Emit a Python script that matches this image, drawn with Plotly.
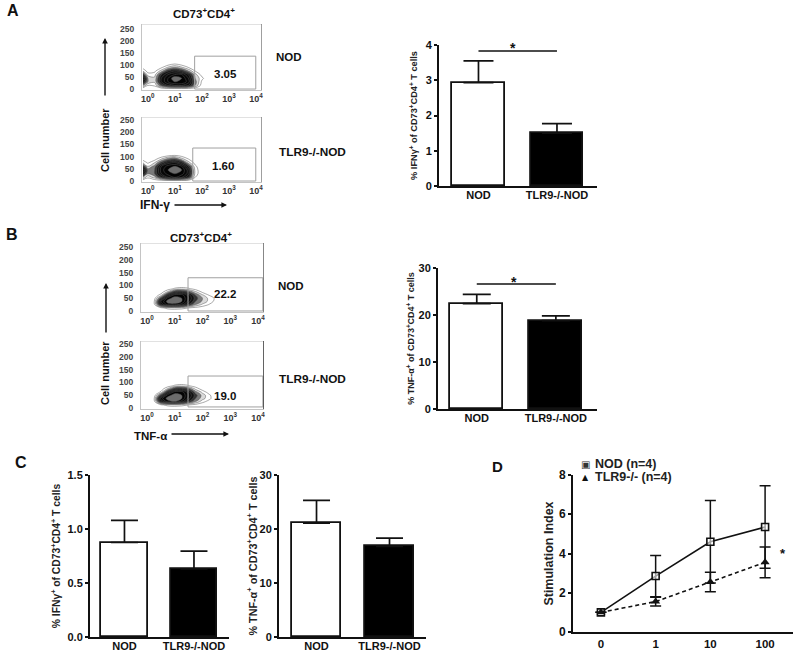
import plotly.graph_objects as go

W, H = 800, 656
FONT = "Liberation Sans"
INK = "#111111"

# ---------- bar data ----------
bar_categories = ["NOD", "TLR9-/-NOD"]
a_values = [2.93, 1.5]
a_errors = [0.62, 0.27]
b_values = [22.4, 18.8]
b_errors = [2.0, 1.0]
c1_values = [0.875, 0.63]
c1_errors = [0.205, 0.165]
c2_values = [21.1, 16.8]
c2_errors = [4.2, 1.5]

# ---------- line data ----------
d_categories = ["0", "1", "10", "100"]
d_series = ["NOD (n=4)", "TLR9-/- (n=4)"]
d_nod = [1.0, 2.85, 4.6, 5.35]
d_nod_err = [0.0, 1.05, 2.1, 2.1]
d_tlr = [1.0, 1.55, 2.55, 3.55]
d_tlr_err = [0.0, 0.22, 0.5, 0.78]

# ---------- flow plots ----------
flow_yticks = [0, 50, 100, 150, 200, 250]
flow_xticks = [0, 1, 2, 3, 4]
flow_xticktext = ["10<sup>0</sup>", "10<sup>1</sup>", "10<sup>2</sup>", "10<sup>3</sup>", "10<sup>4</sup>"]

grid_a_x = [-0.18, 0, 0.25, 0.5, 0.75, 1.0, 1.25, 1.5, 1.75, 2.0, 2.25]
grid_a_y = [0, 15, 30, 45, 60, 75, 90, 105, 120]
z_a_top = [
    [0, 0, 0, 0, 0, 0, 0, 0, 0, 0, 0],
    [3, 1, 1.2, 4, 6, 7, 7, 6, 3, .4, 0],
    [6, 3, 2.2, 6, 8, 9, 9, 7.5, 3.5, .7, 0],
    [8, 3, 2.2, 6, 8, 10, 9, 7, 3, 1.3, 0],
    [5, 1.5, 1.6, 5, 7, 8, 8, 6, 2.5, .5, 0],
    [2, .5, .7, 2.5, 5, 6, 5, 3, 1, 0, 0],
    [.5, 0, 0, .8, 2.2, 3, 2.2, 1, .2, 0, 0],
    [0, 0, 0, 0, .3, .9, .3, 0, 0, 0, 0],
    [0, 0, 0, 0, 0, 0, 0, 0, 0, 0, 0],
]
z_a_bottom = [
    [0, 0, 0, 0, 0, 0, 0, 0, 0, 0, 0],
    [3, 1.2, 2.5, 5, 7, 8, 7, 5, 1, 0, 0],
    [6, 3, 4, 7, 8.5, 9, 8.5, 6.5, 1.7, 0, 0],
    [8, 3.5, 4, 7.5, 9, 10, 9, 6.5, 1.7, 0, 0],
    [5, 2, 3.5, 7, 8.5, 9, 8, 5, 1.3, 0, 0],
    [2, .8, 2, 4.5, 6.5, 7, 5.5, 2.5, .5, 0, 0],
    [.4, 0, .5, 2, 3.5, 4, 2.5, 1, 0, 0, 0],
    [0, 0, 0, 0, .6, .95, .4, 0, 0, 0, 0],
    [0, 0, 0, 0, 0, 0, 0, 0, 0, 0, 0],
]
grid_b_x = [0, .25, .5, .75, 1, 1.25, 1.5, 1.75, 2, 2.25, 2.5, 2.75]
grid_b_y = [0, 12, 25, 37, 50, 62, 75, 87, 100]
z_b_top = [
    [0, 0, 0, 0, 0, 0, 0, 0, 0, 0, 0, 0],
    [0, 0, .6, 1.5, 1.8, 1.5, 1, .6, .3, 0, 0, 0],
    [0, .4, 6, 8.5, 8.5, 7.5, 5, 3, 1.8, .9, 0, 0],
    [0, .7, 7, 9.5, 10, 9, 6.5, 4, 2.8, 1.6, .5, 0],
    [0, .2, 4.5, 8.5, 9.5, 9, 7, 4.5, 3, 1.6, .7, 0],
    [0, 0, 1.5, 6, 8.5, 8.5, 6.5, 4, 2.2, .9, 0, 0],
    [0, 0, .2, 2.2, 5, 5.5, 4, 2.2, .7, 0, 0, 0],
    [0, 0, 0, .3, 1.2, 1.6, 1.2, .5, 0, 0, 0, 0],
    [0, 0, 0, 0, 0, 0, 0, 0, 0, 0, 0, 0],
]
z_b_bottom = [
    [0, 0, 0, 0, 0, 0, 0, 0, 0, 0, 0, 0],
    [0, 0, .7, 1.5, 1.8, 1.5, 1, .6, .2, 0, 0, 0],
    [0, .4, 6, 8.5, 9, 7.5, 5, 3, 1.4, .5, 0, 0],
    [0, .7, 7.5, 9.5, 10, 9, 6.5, 4, 2.4, 1.3, 0, 0],
    [0, .2, 4.5, 8.5, 9.5, 9, 7, 4.5, 2.6, 1.2, 0, 0],
    [0, 0, 1.2, 6, 8.5, 8.5, 6.5, 3.5, 1.7, .4, 0, 0],
    [0, 0, .2, 2.2, 5, 5.5, 4, 1.7, .4, 0, 0, 0],
    [0, 0, 0, .3, 1.2, 1.6, 1.1, .4, 0, 0, 0, 0],
    [0, 0, 0, 0, 0, 0, 0, 0, 0, 0, 0, 0],
]

fig = go.Figure()
layout = {}
annotations = []
counter = [0]


def dom_x(a, b):
    return [a / W, b / W]


def dom_y(top, bottom):
    return [1 - bottom / H, 1 - top / H]


def new_axes(x_px, y_px, xaxis, yaxis):
    counter[0] += 1
    n = counter[0]
    sx = "" if n == 1 else str(n)
    layout["xaxis" + sx] = dict(domain=dom_x(*x_px), anchor="y" + sx, **xaxis)
    layout["yaxis" + sx] = dict(domain=dom_y(*y_px), anchor="x" + sx, **yaxis)
    return "x" + sx, "y" + sx


def text(x, y, s, size=10, bold=True, angle=0, color=INK, family=FONT):
    annotations.append(dict(
        x=x / W, y=1 - y / H, xref="paper", yref="paper", text=s, showarrow=False,
        xanchor="center", yanchor="middle", textangle=angle,
        font=dict(family=family, size=size, color=color, weight=700 if bold else 400)))


def arrow(x0, y0, x1, y1):
    annotations.append(dict(
        x=x1 / W, y=1 - y1 / H, ax=x0 - x1, ay=y0 - y1, xref="paper", yref="paper",
        axref="pixel", ayref="pixel", text="", showarrow=True, arrowhead=2, arrowsize=0.8,
        arrowwidth=1.4, arrowcolor=INK))


def flow(x_px, y_px, y_range, gx, gy, z, gate, right_color):
    xa = dict(range=[-0.216, 4.22], tickvals=flow_xticks, ticktext=flow_xticktext, ticks="",
              tickfont=dict(family=FONT, size=9, color="#333", weight=700), showgrid=False,
              zeroline=False, showline=True, linecolor="#c4c4c4", linewidth=1.2, mirror=False,
              ticklabelstandoff=0)
    ya = dict(range=y_range, tickvals=flow_yticks, ticks="", showgrid=False, zeroline=False,
              tickfont=dict(family=FONT, size=8.5, color="#444", weight=700), showline=True,
              linecolor="#c4c4c4", linewidth=1.2, ticklabelstandoff=5)
    xn, yn = new_axes(x_px, y_px, xa, ya)
    fig.add_trace(go.Contour(
        x=gx, y=gy, z=z, xaxis=xn, yaxis=yn, showscale=False, hoverinfo="skip", zmin=0, zmax=10,
        contours=dict(start=1, end=10, size=1, coloring="fill"), line=dict(color="#555", width=0.5),
        colorscale=[[0, "#ffffff"], [0.12, "#ffffff"], [0.2, "#bdbdbd"], [0.32, "#555555"],
                    [0.45, "#141414"], [0.9, "#000000"], [1, "#f4f4f4"]]))
    fig.add_trace(go.Scatter(x=[gate[0], gate[1], gate[1], gate[0], gate[0]],
                             y=[gate[2], gate[2], gate[3], gate[3], gate[2]], mode="lines",
                             xaxis=xn, yaxis=yn, line=dict(color="#a0a0a0", width=1), hoverinfo="skip"))
    fig.add_trace(go.Scatter(x=[-0.216, 4.22], y=[y_range[1], y_range[1]], mode="lines",
                             xaxis=xn, yaxis=yn, line=dict(color="#c4c4c4", width=1.2), hoverinfo="skip"))
    fig.add_trace(go.Scatter(x=[4.22, 4.22], y=[y_range[1], y_range[0]], mode="lines",
                             xaxis=xn, yaxis=yn, line=dict(color=right_color, width=1.4), hoverinfo="skip"))


def bars(x_px, y_px, x_range, y_range, yticks, yticktext, vals, errs, title, standoff,
         cap, sig=None, tickfont=11, titlesize=9, xfont=11):
    xa = dict(range=x_range, tickvals=[0, 1], ticktext=bar_categories, ticks="", showgrid=False,
              zeroline=False, showline=True, linecolor=INK, linewidth=2,
              tickfont=dict(family=FONT, size=xfont, color=INK, weight=700), ticklabelstandoff=-2)
    ya = dict(range=y_range, tickvals=yticks, ticktext=yticktext, ticks="outside", ticklen=3, tickwidth=1.6,
              tickcolor=INK, showgrid=False, zeroline=False, showline=True, linecolor=INK, linewidth=2,
              tickfont=dict(family=FONT, size=tickfont, color=INK, weight=700),
              title=dict(text=title, standoff=standoff,
                         font=dict(family=FONT, size=titlesize, color="#222", weight=700)))
    xn, yn = new_axes(x_px, y_px, xa, ya)
    fig.add_trace(go.Bar(x=[0, 1], y=vals, width=0.67, xaxis=xn, yaxis=yn,
                         marker=dict(color=["#ffffff", "#000000"], line=dict(color=INK, width=1.8)),
                         error_y=dict(type="data", symmetric=False, array=errs, arrayminus=[0, 0],
                                      color=INK, thickness=1.7, width=cap)))
    if sig is not None:
        fig.add_trace(go.Scatter(x=[0, 1], y=[sig, sig], mode="lines", xaxis=xn, yaxis=yn,
                                 line=dict(color=INK, width=1.6)))


# panel A ------------------------------------------------------------------
flow((142, 262), (24, 90), [-4, 271], grid_a_x, grid_a_y, z_a_top, [1.73, 3.99, 0, 137], "#777777")
flow((142, 262), (117, 182), [-4, 262], grid_a_x, grid_a_y, z_a_bottom, [1.66, 3.99, 0, 135], "#777777")
bars((439, 597), (45, 186), [-0.503, 1.51], [0, 4], [0, 1, 2, 3, 4], ["0", "1", "2", "3", "4"],
     a_values, a_errors, "% IFNγ<sup>+</sup> of CD73<sup>+</sup>CD4<sup>+</sup> T cells", 6, 15, sig=3.83,
     titlesize=9.2)

# panel B ------------------------------------------------------------------
flow((141, 264), (243, 312), [-4, 266], grid_b_x, grid_b_y, z_b_top, [1.48, 4.18, 0, 130], "#555555")
flow((141, 264), (341, 409), [-4, 262], grid_b_x, grid_b_y, z_b_bottom, [1.48, 4.18, 4, 125], "#222222")
bars((438, 597), (268, 409), [-0.49, 1.52], [0, 30], [0, 10, 20, 30], ["0", "10", "20", "30"],
     b_values, b_errors, "% TNF-α<sup>+</sup> of CD73<sup>+</sup>CD4<sup>+</sup> T cells", 2, 14, sig=26.6,
     titlesize=9)

# panel C ------------------------------------------------------------------
bars((90, 229), (475, 637), [-0.496, 1.504], [0, 1.5], [0, 0.5, 1.0, 1.5], ["0.0", "0.5", "1.0", "1.5"],
     c1_values, c1_errors, "% IFNγ<sup>+</sup> of CD73<sup>+</sup>CD4<sup>+</sup> T cells", 5, 13.5,
     titlesize=10.3)
bars((279, 426), (475, 637), [-0.514, 1.5], [0, 30], [0, 10, 20, 30], ["0", "10", "20", "30"],
     c2_values, c2_errors, "% TNF-α<sup>+</sup> of CD73<sup>+</sup>CD4<sup>+</sup> T cells", 0, 13.5,
     titlesize=10.8)

# panel D ------------------------------------------------------------------
xn, yn = new_axes(
    (573, 793), (475, 632),
    dict(range=[-0.51, 3.51], tickvals=[0, 1, 2, 3], ticktext=d_categories, ticks="", showgrid=False,
         zeroline=False, showline=True, linecolor=INK, linewidth=2,
         tickfont=dict(family=FONT, size=11.5, color=INK, weight=700), ticklabelstandoff=0),
    dict(range=[0, 8], tickvals=[0, 2, 4, 6, 8], ticks="outside", ticklen=3, tickwidth=1.6, tickcolor=INK,
         showgrid=False, zeroline=False, showline=True, linecolor=INK, linewidth=2,
         tickfont=dict(family=FONT, size=12, color=INK, weight=700),
         title=dict(text="Stimulation Index", standoff=3,
                    font=dict(family=FONT, size=12.5, color="#222", weight=700))))
fig.add_trace(go.Scatter(x=[0, 1, 2, 3], y=d_nod, name=d_series[0], mode="lines+markers", xaxis=xn, yaxis=yn,
                         line=dict(color=INK, width=1.6),
                         marker=dict(symbol="square", size=7, color="rgba(255,255,255,0.6)",
                                     line=dict(color=INK, width=1.6)),
                         error_y=dict(type="data", array=d_nod_err, color=INK, thickness=1.5, width=5.5)))
fig.add_trace(go.Scatter(x=[0, 1, 2, 3], y=d_tlr, name=d_series[1], mode="lines+markers", xaxis=xn, yaxis=yn,
                         line=dict(color=INK, width=1.6, dash="4px,3px"),
                         marker=dict(symbol="triangle-up", size=8, color=INK),
                         error_y=dict(type="data", array=d_tlr_err, color=INK, thickness=1.5, width=5.5)))

# text ---------------------------------------------------------------------
text(13, 11, "A", 16)
text(12, 234, "B", 16)
text(21, 462, "C", 16)
text(497, 466, "D", 15)

text(204, 13, "CD73<sup>+</sup>CD4<sup>+</sup>", 11.5)
text(201, 237, "CD73<sup>+</sup>CD4<sup>+</sup>", 11.5)
text(289, 57, "NOD", 11.5)
text(312, 152, "TLR9-/-NOD", 11.8)
text(291, 286, "NOD", 11.5)
text(312, 379, "TLR9-/-NOD", 11.8)

text(225, 74, "3.05", 11.5)
text(223, 166, "1.60", 11.5)
text(225, 294, "22.2", 11.5)
text(225, 396, "19.0", 11.5)

text(105, 140, "Cell number", 11, angle=-90)
text(105, 373, "Cell number", 11, angle=-90)
arrow(105, 97, 105, 38)
arrow(106, 334, 106, 283)
text(155, 205, "IFN-γ", 12)
arrow(173, 205, 227, 205)
text(150, 436, "TNF-α", 11.5)
arrow(170, 434, 229, 434)

text(513, 48, "*", 14)
text(514, 282, "*", 14)
text(783, 553, "*", 13)

# legend of panel D, set tight as in the reference
text(585, 464, "▣", 10, bold=False, family="DejaVu Sans", color="#333")
text(585, 477, "▲", 8, bold=False, family="DejaVu Sans")
annotations.append(dict(x=593 / W, y=1 - 464 / H, xref="paper", yref="paper", text=d_series[0], showarrow=False,
                        xanchor="left", yanchor="middle", font=dict(family=FONT, size=12.5, color="#222", weight=700)))
annotations.append(dict(x=593 / W, y=1 - 477 / H, xref="paper", yref="paper", text=d_series[1], showarrow=False,
                        xanchor="left", yanchor="middle", font=dict(family=FONT, size=12.5, color="#222", weight=700)))

layout.update(
    width=W, height=H, margin=dict(l=0, r=0, t=0, b=0, autoexpand=False), paper_bgcolor="white",
    plot_bgcolor="rgba(0,0,0,0)", showlegend=False, annotations=annotations, bargap=0)
fig.update_layout(**layout)
fig.write_html("out.html", config=dict(displayModeBar=False),
               post_script="document.body.style.margin='0';")
